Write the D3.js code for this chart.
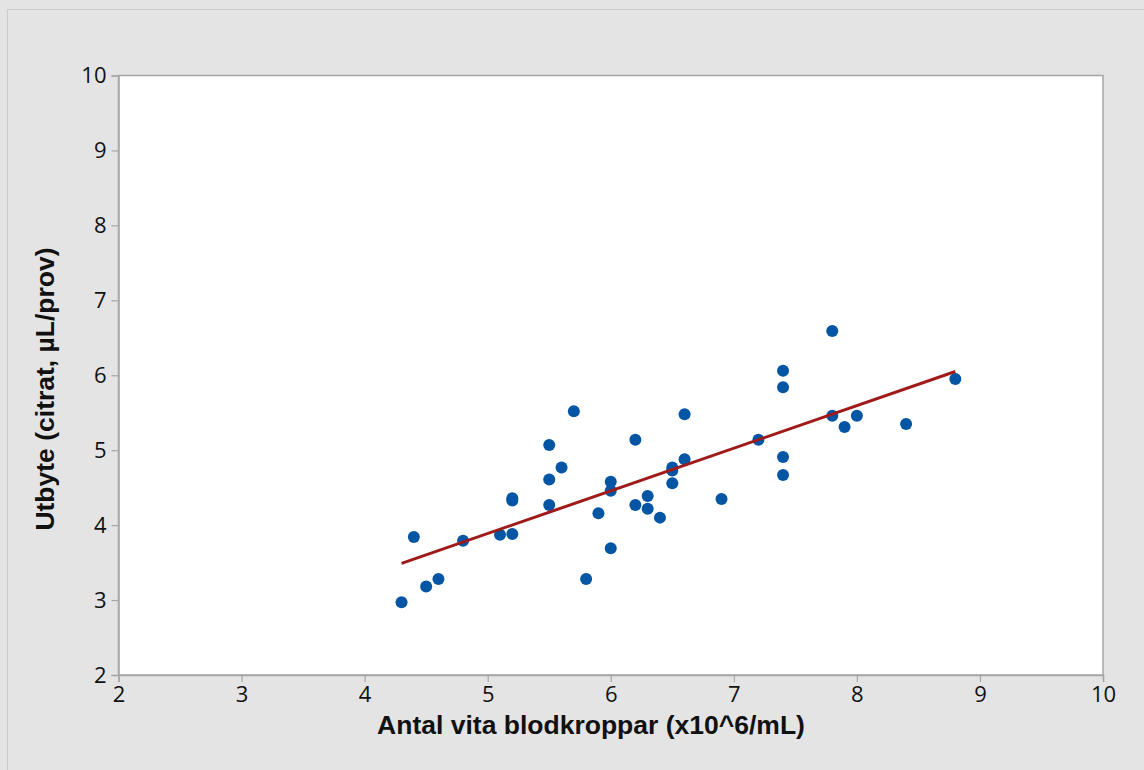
<html>
<head>
<meta charset="utf-8">
<title>Utbyte vs vita blodkroppar</title>
<script src="https://d3js.org/d3.v7.min.js"></script>
<style>
  body { margin: 0; background: #e4e4e4; }
  svg { display: block; }
</style>
</head>
<body>
<div id="chart"></div>
<script>
// data
var wbc = [4.3, 4.4, 4.5, 4.6, 4.8, 5.1, 5.2, 5.2, 5.2, 5.5, 5.5, 5.5, 5.6, 5.7, 5.8, 5.9,
           6.0, 6.0, 6.0, 6.2, 6.2, 6.3, 6.3, 6.4, 6.5, 6.5, 6.5, 6.6, 6.6, 6.9, 7.2,
           7.4, 7.4, 7.4, 7.4, 7.8, 7.8, 7.9, 8.0, 8.4, 8.8];
var yieldVals = [2.97, 3.84, 3.18, 3.28, 3.79, 3.87, 3.88, 4.33, 4.36, 4.27, 4.61, 5.07, 4.77, 5.52, 3.28, 4.16,
                 3.69, 4.46, 4.58, 4.27, 5.14, 4.39, 4.22, 4.10, 4.56, 4.73, 4.77, 4.88, 5.48, 4.35, 5.14,
                 6.06, 5.84, 4.91, 4.67, 6.59, 5.46, 5.31, 5.46, 5.35, 5.95];
var xTicks = [2, 3, 4, 5, 6, 7, 8, 9, 10];
var yTicks = [2, 3, 4, 5, 6, 7, 8, 9, 10];
var fitIntercept = 1.043, fitSlope = 0.569;
var fitRange = [4.3, 8.8];

var W = 1144, H = 770;
var plotL = 118.5, plotR = 1103, plotT = 75.5, plotB = 675;

var svg = d3.select("#chart").append("svg")
  .attr("width", W).attr("height", H);

// figure background + frame
svg.append("rect").attr("x", 0).attr("y", 0).attr("width", W).attr("height", H).attr("fill", "#e4e4e4");
svg.append("rect").attr("x", 7.5).attr("y", 9.5).attr("width", W + 10).attr("height", H + 10)
  .attr("fill", "none").attr("stroke", "#c9c9c9").attr("stroke-width", 1);

var x = d3.scaleLinear().domain([2, 10]).range([plotL, plotR]);
var y = d3.scaleLinear().domain([2, 10]).range([plotB, plotT]);

// plot area
svg.append("rect").attr("x", plotL).attr("y", plotT)
  .attr("width", plotR - plotL).attr("height", plotB - plotT)
  .attr("fill", "#ffffff").attr("stroke", "#a6a6a6").attr("stroke-width", 1.5);

// axes
var xAxis = svg.append("g").attr("transform", "translate(0," + plotB + ")")
  .call(d3.axisBottom(x).tickValues(xTicks).tickSize(7).tickPadding(5).tickFormat(d3.format("d")));
var yAxis = svg.append("g").attr("transform", "translate(" + plotL + ",0)")
  .call(d3.axisLeft(y).tickValues(yTicks).tickSize(7).tickPadding(5).tickFormat(d3.format("d")));

[xAxis, yAxis].forEach(function(a) {
  a.select(".domain").attr("stroke", "#a6a6a6").attr("stroke-width", 1.5);
  a.selectAll(".tick line").attr("stroke", "#a6a6a6").attr("stroke-width", 1.2);
  a.selectAll(".tick text").attr("fill", "#111")
    .style("font-family", "'Open Sans', sans-serif").style("font-size", "22px")
    .style("font-weight", 500);
});
yAxis.selectAll(".tick text").attr("dy", "0.34em");
xAxis.selectAll(".tick text").attr("dy", "0.68em");

// points
svg.append("g").selectAll("circle")
  .data(wbc.map(function(d, i) { return [d, yieldVals[i]]; }))
  .enter().append("circle")
    .attr("cx", function(d) { return x(d[0]); })
    .attr("cy", function(d) { return y(d[1]); })
    .attr("r", 6)
    .attr("fill", "#0455a4");

// fitted line
svg.append("path")
  .datum(fitRange)
  .attr("fill", "none")
  .attr("stroke", "#a01a1a")
  .attr("stroke-width", 3)
  .attr("d", d3.line()
    .x(function(d) { return x(d); })
    .y(function(d) { return y(fitIntercept + fitSlope * d); }));

// axis titles
svg.append("text")
  .attr("x", 591).attr("y", 734)
  .attr("text-anchor", "middle")
  .style("font-family", "'Liberation Sans', Arial, sans-serif")
  .style("font-weight", "bold").style("font-size", "26.5px").attr("fill", "#111")
  .text("Antal vita blodkroppar (x10^6/mL)");

svg.append("text")
  .attr("transform", "translate(54,389) rotate(-90)")
  .attr("text-anchor", "middle")
  .style("font-family", "'Liberation Sans', Arial, sans-serif")
  .style("font-weight", "bold").style("font-size", "26.5px").attr("fill", "#111")
  .text("Utbyte (citrat, µL/prov)");
</script>
</body>
</html>
